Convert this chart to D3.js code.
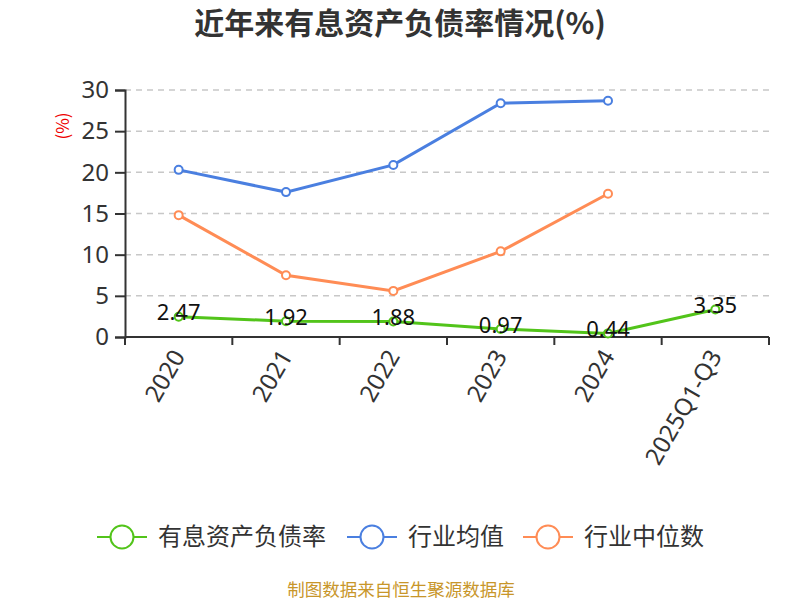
<!DOCTYPE html>
<html lang="zh">
  <head>
    <meta charset="UTF-8" />
    <title>近年来有息资产负债率情况</title>
    <script src="https://cdn.jsdelivr.net/npm/d3@7"></script>
    <style>
      body {
        margin: 0;
        background: #fff;
        font-family: "Noto Sans CJK SC", "Noto Sans", sans-serif;
      }
    </style>
  </head>
  <body>
    <svg id="chart" width="800" height="600"></svg>
    <script>
      // data
      let years = ["2020", "2021", "2022", "2023", "2024", "2025Q1-Q3"];
      let debtRatio = [2.47, 1.92, 1.88, 0.97, 0.44, 3.35];
      let industryAvg = [20.3, 17.6, 20.9, 28.4, 28.7, null];
      let industryMedian = [14.8, 7.5, 5.6, 10.4, 17.4, null];
      let yTicks = [0, 5, 10, 15, 20, 25, 30];

      let seriesNames = ["有息资产负债率", "行业均值", "行业中位数"];
      let seriesColors = ["#52c41a", "#4a7fe0", "#ff8c55"];
      let seriesData = [debtRatio, industryAvg, industryMedian];

      let svg = d3.select("#chart");
      let margin = { left: 125, right: 31, top: 90, bottom: 263 };
      let W = 800, H = 600;
      let numFont = "'Noto Sans', sans-serif";

      let x = d3
        .scaleBand()
        .domain(years)
        .range([margin.left, W - margin.right]);
      let y = d3
        .scaleLinear()
        .domain([0, 30])
        .range([H - margin.bottom, margin.top]);

      // title
      svg
        .append("text")
        .attr("x", 400)
        .attr("y", 34)
        .attr("text-anchor", "middle")
        .style("font-size", "30px")
        .style("font-weight", "bold")
        .style("fill", "#333")
        .text("近年来有息资产负债率情况(%)");

      // grid
      svg
        .append("g")
        .selectAll("line")
        .data(yTicks.filter((d) => d > 0))
        .join("line")
        .attr("x1", margin.left)
        .attr("x2", W - margin.right)
        .attr("y1", (d) => y(d))
        .attr("y2", (d) => y(d))
        .attr("stroke", "#c8c8c8")
        .attr("stroke-width", 1.5)
        .attr("stroke-dasharray", "6,5");

      // y axis
      let yAxis = svg
        .append("g")
        .attr("transform", `translate(${margin.left},0)`)
        .call(d3.axisLeft(y).tickValues(yTicks).tickSize(10).tickPadding(6));
      yAxis.select(".domain").attr("stroke", "#333").attr("stroke-width", 2);
      yAxis.selectAll(".tick line").attr("stroke", "#333").attr("stroke-width", 2);
      yAxis
        .selectAll(".tick text")
        .style("font-size", "24px")
        .style("fill", "#333")
        .style("font-family", numFont);

      // y unit label
      svg
        .append("text")
        .attr("transform", "translate(69,126) rotate(-90)")
        .attr("text-anchor", "middle")
        .style("font-size", "17px")
        .style("fill", "#e00")
        .text("(%)");

      // x axis
      let xAxisG = svg
        .append("g")
        .attr("transform", `translate(0,${y(0)})`);
      xAxisG
        .append("line")
        .attr("x1", margin.left)
        .attr("x2", W - margin.right)
        .attr("stroke", "#333")
        .attr("stroke-width", 2);
      let bounds = years.map((d) => x(d)).concat([x.range()[1]]);
      xAxisG
        .selectAll("line.tk")
        .data(bounds)
        .join("line")
        .attr("class", "tk")
        .attr("x1", (d) => d)
        .attr("x2", (d) => d)
        .attr("y1", 0)
        .attr("y2", 8)
        .attr("stroke", "#333")
        .attr("stroke-width", 2);
      xAxisG
        .selectAll("text")
        .data(years)
        .join("text")
        .attr(
          "transform",
          (d) => `translate(${x(d) + x.bandwidth() / 2},${15}) rotate(-60)`
        )
        .attr("text-anchor", "end")
        .attr("dy", "0.35em")
        .style("font-size", "24px")
        .style("fill", "#333")
        .style("font-family", numFont)
        .text((d) => d);

      let cx = (d, i) => x(years[i]) + x.bandwidth() / 2;
      let line = d3
        .line()
        .defined((d) => d != null)
        .x((d, i) => cx(d, i))
        .y((d) => y(d));

      // draw series, green last so it sits on top
      [1, 2, 0].forEach(function (k) {
        let vals = seriesData[k];
        svg
          .append("path")
          .datum(vals)
          .attr("d", line)
          .attr("fill", "none")
          .attr("stroke", seriesColors[k])
          .attr("stroke-width", 3);
        svg
          .append("g")
          .selectAll("circle")
          .data(vals.map((v, i) => ({ v: v, i: i })).filter((d) => d.v != null))
          .join("circle")
          .attr("cx", (d) => cx(d.v, d.i))
          .attr("cy", (d) => y(d.v))
          .attr("r", 4)
          .attr("fill", "#fff")
          .attr("stroke", seriesColors[k])
          .attr("stroke-width", 2);
      });

      // value labels on the main series
      svg
        .append("g")
        .selectAll("text")
        .data(debtRatio)
        .join("text")
        .attr("x", (d, i) => cx(d, i))
        .attr("y", (d) => y(d) - 4)
        .attr("dy", "0.35em")
        .attr("text-anchor", "middle")
        .style("font-size", "22px")
        .style("fill", "#111")
        .style("font-family", numFont)
        .text((d) => d.toFixed(2));

      // legend
      let legendX = [97, 347, 523];
      let legend = svg
        .append("g")
        .selectAll("g")
        .data(seriesNames)
        .join("g")
        .attr("transform", (d, i) => `translate(${legendX[i]},537)`);
      legend
        .append("line")
        .attr("x1", 0)
        .attr("x2", 50)
        .attr("stroke", (d, i) => seriesColors[i])
        .attr("stroke-width", 2);
      legend
        .append("circle")
        .attr("cx", 25)
        .attr("r", 11.5)
        .attr("fill", "#fff")
        .attr("stroke", (d, i) => seriesColors[i])
        .attr("stroke-width", 2);
      legend
        .append("text")
        .attr("x", 61)
        .attr("dy", "0.35em")
        .style("font-size", "24px")
        .style("fill", "#333")
        .text((d) => d);

      // source
      svg
        .append("text")
        .attr("x", 401)
        .attr("y", 596)
        .attr("text-anchor", "middle")
        .style("font-size", "17.5px")
        .style("fill", "#c8962a")
        .text("制图数据来自恒生聚源数据库");
    </script>
  </body>
</html>
